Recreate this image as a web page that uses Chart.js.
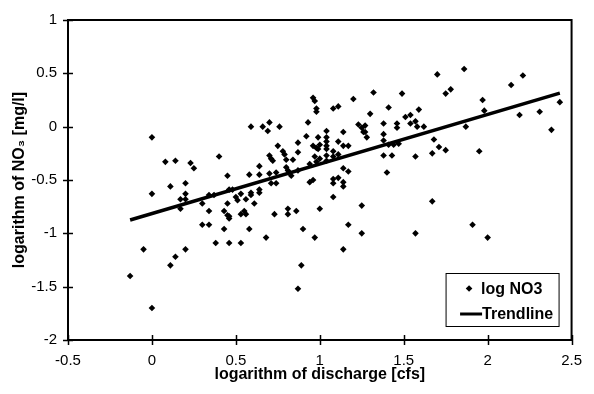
<!DOCTYPE html>
<html>
<head>
<meta charset="utf-8">
<script src="https://cdn.jsdelivr.net/npm/chart.js@4.4.1/dist/chart.umd.min.js"></script>
<style>
  html, body { margin: 0; padding: 0; background: #fff; }
  #wrap { width: 594px; height: 394px; }
</style>
</head>
<body>
<div id="wrap"><canvas id="canvas" width="594" height="394"></canvas></div>
<script>
// values
var noX = [-0.13,-0.05,0.00,0.00,0.00,0.08,0.11,0.11,0.14,0.14,0.17,0.17,0.20,0.20,0.20,0.20,0.23,0.25,0.30,0.30,
  0.34,0.34,0.34,0.37,0.38,0.40,0.43,0.45,0.46,0.43,0.45,0.45,0.46,0.46,0.48,0.50,0.51,0.53,0.56,0.59,
  0.59,0.64,0.64,0.61,0.53,0.55,0.56,0.46,0.58,0.53,0.68,0.73,0.81,0.81,0.86,0.90,0.89,0.87,0.97,1.00,
  0.58,0.64,0.70,0.74,0.71,0.74,0.83,0.81,0.80,0.87,0.94,0.96,0.94,0.98,0.64,0.59,0.66,0.70,0.69,0.76,
  0.75,0.78,0.79,0.80,0.70,0.71,0.72,0.84,0.87,0.87,0.92,0.93,0.96,0.97,0.98,0.98,0.96,0.98,0.99,0.97,
  1.00,0.99,1.04,1.04,1.04,1.04,1.04,1.04,1.04,1.00,1.08,1.11,1.20,1.32,1.30,1.41,1.49,1.51,1.54,1.59,
  1.23,1.25,1.27,1.26,1.27,1.28,1.38,1.38,1.38,1.46,1.46,1.54,1.57,1.58,1.62,1.14,1.11,1.14,1.17,1.08,
  1.08,1.11,1.41,1.44,1.47,1.38,1.43,1.57,1.14,1.17,1.40,1.08,1.08,1.11,1.14,1.14,1.08,1.25,1.17,1.25,
  1.57,1.14,1.70,1.86,2.14,2.21,1.75,1.78,1.97,1.98,2.19,2.31,2.43,1.87,1.68,1.71,1.75,1.67,1.95,2.38,
  1.67,1.91,2.00];
var noY = [-1.40,-1.15,-0.10,-0.63,-1.70,-0.33,-0.56,-1.30,-0.32,-1.22,-0.68,-0.77,-0.53,-0.63,-0.68,-1.15,-0.34,-0.39,-0.72,-0.92,
  -0.64,-0.79,-0.92,-0.64,-1.09,-0.28,-0.79,-0.83,-0.86,-0.96,-0.46,-0.72,-1.09,-0.59,-0.59,-0.66,-0.69,-0.63,-0.68,-0.62,
  -0.64,-0.59,-0.62,-0.72,-0.82,-0.79,-0.82,-0.84,-0.96,-1.09,-1.04,-0.82,-0.77,-0.82,-0.79,-0.96,-1.30,-1.52,-1.04,-0.77,
  -0.45,-0.45,-0.44,-0.43,-0.53,-0.53,-0.46,-0.41,-0.38,-0.41,-0.52,-0.50,-0.35,-0.33,-0.37,0.00,0.00,0.04,-0.04,0.00,
  -0.18,-0.23,-0.26,-0.31,-0.27,-0.30,-0.32,-0.31,-0.15,-0.24,-0.09,0.04,0.27,0.24,0.17,0.14,-0.18,-0.20,-0.21,-0.28,
  -0.30,-0.10,-0.04,-0.10,-0.14,-0.18,-0.21,-0.27,-0.32,-0.17,0.17,0.19,0.26,0.32,0.12,0.18,0.31,0.09,0.11,0.16,
  0.02,-0.01,0.01,-0.05,-0.05,-0.10,0.03,-0.07,-0.13,0.03,-0.01,0.03,0.05,0.00,0.00,-0.05,-0.14,-0.18,-0.18,-0.23,
  -0.28,-0.26,-0.17,-0.17,-0.16,-0.27,-0.27,-0.28,-0.39,-0.42,-0.43,-0.49,-0.53,-0.48,-0.52,-0.56,-0.66,-0.74,-0.92,-1.00,
  -1.00,-1.15,0.49,0.54,0.39,0.48,0.31,0.35,0.25,0.15,0.11,0.14,0.23,0.00,-0.12,-0.19,-0.22,-0.25,-0.23,-0.03,
  -0.70,-0.92,-1.04];
var trendX = [-0.13, 2.43];
var trendY = [-0.875, 0.315];
var xTicks = [-0.5, 0, 0.5, 1, 1.5, 2, 2.5];
var yTicks = [-2, -1.5, -1, -0.5, 0, 0.5, 1];

var FONT = '"Liberation Sans", Arial, sans-serif';

function pts(xs, ys){
    var out = [];
    for(var i = 0; i < xs.length; i++){
        out.push({x: xs[i], y: ys[i]});
    }
    return out;
}

// white page, box round the plot, ticks crossing the axes
var framePlugin = {
    id: 'frame',
    beforeDraw: function(chart){
        var c = chart.ctx;
        c.save();
        c.fillStyle = '#fff';
        c.fillRect(0, 0, chart.width, chart.height);
        c.restore();
    },
    afterDraw: function(chart){
        var c = chart.ctx, a = chart.chartArea;
        var xs = chart.scales.x, ys = chart.scales.y;
        c.save();
        c.strokeStyle = '#000';
        c.lineWidth = 2;
        c.strokeRect(a.left, a.top, a.right - a.left, a.bottom - a.top);
        c.lineWidth = 1.5;
        c.beginPath();
        xs.ticks.forEach(function(t){
            var px = Math.round(xs.getPixelForValue(t.value)) + 0.5;
            c.moveTo(px, a.bottom - 5);
            c.lineTo(px, a.bottom + 5);
        });
        ys.ticks.forEach(function(t){
            var py = Math.round(ys.getPixelForValue(t.value)) + 0.5;
            c.moveTo(a.left - 5, py);
            c.lineTo(a.left + 5, py);
        });
        c.stroke();

        // legend box
        var bx = a.right - 125.5, by = a.bottom - 66.5, bw = 113, bh = 53;
        c.fillStyle = '#fff';
        c.fillRect(bx, by, bw, bh);
        c.lineWidth = 1;
        c.strokeRect(bx, by, bw, bh);
        var ds = chart.data.datasets;
        c.font = 'bold 16px ' + FONT;
        c.textBaseline = 'middle';
        c.fillStyle = '#000';
        // scatter entry
        var mx = bx + 23, my = by + 15;
        c.beginPath();
        c.moveTo(mx, my - 3.3); c.lineTo(mx + 3.3, my); c.lineTo(mx, my + 3.3); c.lineTo(mx - 3.3, my);
        c.closePath();
        c.fill();
        c.fillText(ds[0].label, bx + 35, my + 1);
        // line entry
        var ly = by + 40.5;
        c.lineWidth = 3;
        c.beginPath();
        c.moveTo(bx + 14, ly); c.lineTo(bx + 36, ly);
        c.stroke();
        c.fillText(ds[1].label, bx + 36, ly + 1);
        c.restore();
    }
};

function plainLabel(v){ return String(v); }

var config = {
    type: 'scatter',
    data: {
        datasets: [
            {
                label: 'log NO3',
                data: pts(noX, noY),
                pointStyle: 'rectRot',
                pointRadius: 3.3,
                pointBorderWidth: 0,
                backgroundColor: '#000',
                borderColor: '#000'
            },
            {
                label: 'Trendline',
                type: 'line',
                data: pts(trendX, trendY),
                borderColor: '#000',
                borderWidth: 3.5,
                pointRadius: 0,
                fill: false
            }
        ]
    },
    options: {
        responsive: false,
        animation: false,
        devicePixelRatio: 1,
        layout: { padding: { left: 0, top: 14, right: 20, bottom: 0 } },
        plugins: { legend: { display: false }, tooltip: { enabled: false } },
        scales: {
            x: {
                type: 'linear', min: -0.5, max: 2.5,
                afterBuildTicks: function(s){ s.ticks = xTicks.map(function(v){ return {value: v}; }); },
                afterFit: function(s){ s.height = 54; },
                grid: { drawOnChartArea: false, drawTicks: false },
                border: { display: false },
                ticks: { padding: 12, maxRotation: 0, color: '#000', callback: plainLabel,
                         font: { family: FONT, size: 15 } },
                title: { display: true, text: 'logarithm of discharge [cfs]', color: '#000',
                         font: { family: FONT, size: 16, weight: 'bold' }, padding: { top: 0, bottom: 10 } }
            },
            y: {
                type: 'linear', min: -2, max: 1,
                afterBuildTicks: function(s){ s.ticks = yTicks.map(function(v){ return {value: v}; }); },
                afterFit: function(s){ s.width = 68; },
                grid: { drawOnChartArea: false, drawTicks: false },
                border: { display: false },
                ticks: { padding: 11, color: '#000', callback: plainLabel,
                         font: { family: FONT, size: 15 } },
                title: { display: true, text: 'logarithm of NO\u2083 [mg/l]', color: '#000',
                         font: { family: FONT, size: 16, weight: 'bold' }, padding: { top: 10, bottom: 0 } }
            }
        }
    },
    plugins: [framePlugin]
};

var ctx = document.getElementById('canvas').getContext('2d');
var chart = new Chart(ctx, config);
</script>
</body>
</html>
